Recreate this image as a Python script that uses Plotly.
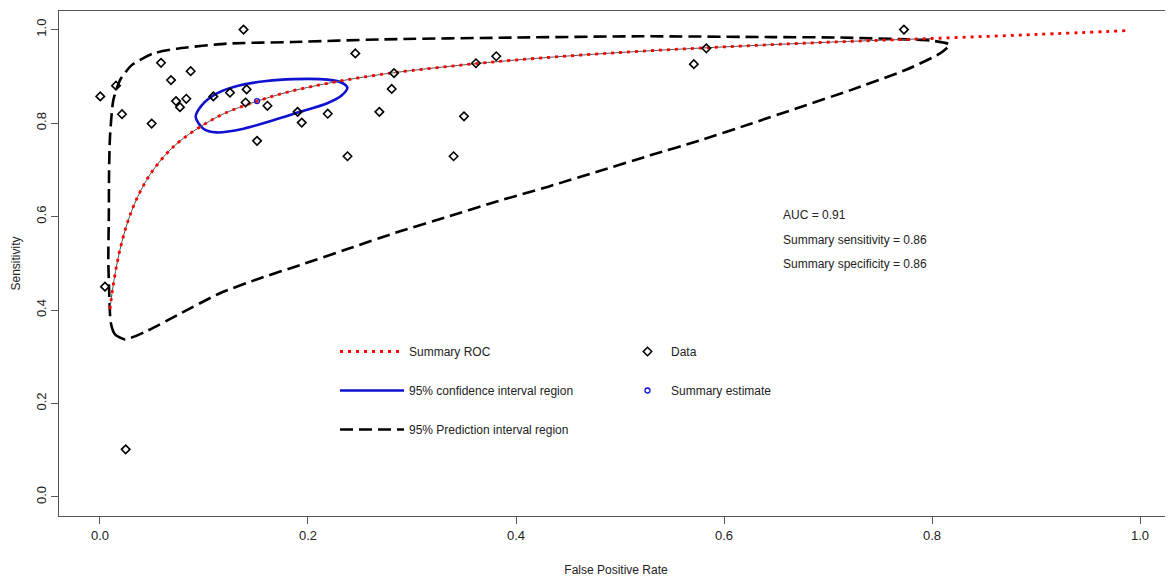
import plotly.graph_objects as go

# ---- data ----
data_fpr = [0.138, 0.0587, 0.0872, 0.0683, 0.0154, 0.0003, 0.0212, 0.0497, 0.0731, 0.0769,
            0.083, 0.109, 0.125, 0.141, 0.140, 0.161, 0.151, 0.190, 0.194, 0.219,
            0.2455, 0.238, 0.2686, 0.2805, 0.350, 0.340, 0.2827, 0.3615, 0.381, 0.571,
            0.583, 0.773, 0.0048, 0.0247]
data_sens = [1.000, 0.929, 0.911, 0.892, 0.880, 0.857, 0.819, 0.799, 0.847, 0.834,
             0.852, 0.857, 0.865, 0.872, 0.844, 0.837, 0.762, 0.824, 0.801, 0.820,
             0.949, 0.729, 0.824, 0.873, 0.8145, 0.729, 0.907, 0.928, 0.943, 0.926,
             0.960, 1.000, 0.450, 0.102]

summary_fpr = [0.151]
summary_sens = [0.847]

sroc_fpr = [0.0096, 0.012, 0.015, 0.019, 0.025, 0.032, 0.04, 0.05, 0.065, 0.08, 0.10, 0.12,
            0.15, 0.18, 0.22, 0.27, 0.33, 0.40, 0.50, 0.60, 0.70, 0.80, 0.90, 0.99]
sroc_sens = [0.402, 0.442, 0.483, 0.527, 0.577, 0.621, 0.659, 0.696, 0.737, 0.767, 0.797, 0.821,
             0.846, 0.866, 0.8855, 0.904, 0.920, 0.935, 0.951, 0.963, 0.973, 0.981, 0.9896, 0.998]
n_sroc_observed = 22  # gray underline covers the observed range (up to fpr 0.80)

ci_fpr = [0.092, 0.0994, 0.112, 0.138, 0.1667, 0.1923, 0.218, 0.2323, 0.2378, 0.2308,
          0.2115, 0.186, 0.160, 0.1346, 0.112, 0.0978, 0.092]
ci_sens = [0.813, 0.788, 0.780, 0.788, 0.806, 0.824, 0.842, 0.859, 0.876, 0.888,
           0.894, 0.894, 0.890, 0.881, 0.863, 0.838, 0.813]

pi_fpr = [0.024, 0.0144, 0.0103, 0.009, 0.008, 0.0085, 0.0087, 0.0096, 0.0128, 0.0192,
          0.0305, 0.0513, 0.0737, 0.122, 0.186, 0.269, 0.40, 0.519, 0.647, 0.7115,
          0.7756, 0.801, 0.817, 0.8077, 0.7756, 0.7212, 0.673, 0.625, 0.577, 0.529,
          0.481, 0.431, 0.372, 0.3365, 0.2885, 0.240, 0.192, 0.154, 0.1154, 0.0769,
          0.0449, 0.024]
pi_sens = [0.337, 0.348, 0.374, 0.43, 0.506, 0.60, 0.692, 0.770, 0.849, 0.8915,
           0.924, 0.949, 0.959, 0.970, 0.9735, 0.979, 0.983, 0.9857, 0.984, 0.983,
           0.979, 0.976, 0.968, 0.949, 0.9145, 0.870, 0.834, 0.798, 0.763, 0.731,
           0.698, 0.664, 0.626, 0.601, 0.5685, 0.532, 0.496, 0.468, 0.436, 0.392,
           0.355, 0.337]

stats_text = ["AUC = 0.91", "Summary sensitivity = 0.86", "Summary specificity = 0.86"]
stats_y = [0.603, 0.549, 0.498]
stats_x = 0.655

tick_vals = [0.0, 0.2, 0.4, 0.6, 0.8, 1.0]
tick_text = ["0.0", "0.2", "0.4", "0.6", "0.8", "1.0"]

FONT = "Liberation Sans, Arial, sans-serif"
AXCOL = "#555555"
TXT = "#222222"

# page body adds an 8px offset; figure is sized/margined to compensate
W, H = 1165, 569
ML, MT, MB = 51, 3, 61
PW = W - ML
PH = H - MT - MB

fig = go.Figure()

fig.add_trace(go.Scatter(
    x=pi_fpr, y=pi_sens, mode="lines", name="95% Prediction interval region",
    line=dict(color="black", width=2.6, dash="13px,6px", shape="spline", smoothing=0.6),
    legend="legend", legendgroup="c", legendrank=3))

fig.add_trace(go.Scatter(
    x=ci_fpr, y=ci_sens, mode="lines", name="95% confidence interval region",
    line=dict(color="#1010d0", width=2.6, shape="spline", smoothing=0.8),
    legend="legend", legendgroup="b", legendrank=2))

fig.add_trace(go.Scatter(
    x=sroc_fpr[:n_sroc_observed], y=sroc_sens[:n_sroc_observed], mode="lines",
    line=dict(color="#555555", width=1, shape="spline"), showlegend=False, hoverinfo="skip"))

fig.add_trace(go.Scatter(
    x=sroc_fpr, y=sroc_sens, mode="lines", name="Summary ROC",
    line=dict(color="#ff0000", width=2.8, dash="3px,5px", shape="spline"),
    legend="legend", legendgroup="a", legendrank=1))

fig.add_trace(go.Scatter(
    x=data_fpr, y=data_sens, mode="markers", name="Data",
    marker=dict(symbol="diamond-open", size=6.5, color="black", line=dict(width=1.6, color="black")),
    legend="legend2", legendgroup="d", legendrank=1))

fig.add_trace(go.Scatter(
    x=summary_fpr, y=summary_sens, mode="markers", name="Summary estimate",
    marker=dict(symbol="circle-open", size=5, color="#1010d0", line=dict(width=1.3, color="#1010d0")),
    legend="legend2", legendgroup="e", legendrank=2))

for t, yy in zip(stats_text, stats_y):
    fig.add_annotation(x=stats_x, y=yy, xref="x", yref="y", text=t, showarrow=False,
                       xanchor="left", yanchor="middle",
                       font=dict(family=FONT, size=12, color=TXT))

leg_top = (H - MB - 329) / PH  # legend block top, in paper units

fig.update_layout(
    width=W, height=H,
    margin=dict(l=ML, r=0, t=MT, b=MB, autoexpand=False),
    paper_bgcolor="white", plot_bgcolor="white",
    font=dict(family=FONT, size=12, color=TXT),
    legend=dict(x=(327 - ML) / PW, y=leg_top, xanchor="left", yanchor="top",
                bgcolor="rgba(0,0,0,0)", borderwidth=0, itemwidth=64, tracegroupgap=20,
                traceorder="grouped", font=dict(family=FONT, size=12, color=TXT)),
    legend2=dict(x=(616 - ML) / PW, y=leg_top, xanchor="left", yanchor="top",
                 bgcolor="rgba(0,0,0,0)", borderwidth=0, itemwidth=37, tracegroupgap=20,
                 traceorder="grouped", font=dict(family=FONT, size=12, color=TXT)),
    xaxis=dict(range=[-0.0394, 1.0317], showgrid=False, zeroline=False, automargin=False,
               showline=True, linecolor=AXCOL, linewidth=1.2, mirror=True,
               ticks="outside", ticklen=7, tickcolor=AXCOL, tickwidth=1,
               tickvals=tick_vals, ticktext=tick_text,
               tickfont=dict(family=FONT, size=13, color=TXT),
               title=dict(text="False Positive Rate", standoff=24,
                          font=dict(family=FONT, size=12, color=TXT))),
    yaxis=dict(range=[-0.0407, 1.0398], showgrid=False, zeroline=False, automargin=False,
               showline=True, linecolor=AXCOL, linewidth=1.2, mirror=False,
               ticks="outside", ticklen=7, tickcolor=AXCOL, tickwidth=1,
               tickvals=tick_vals, ticktext=tick_text, tickangle=-90,
               tickfont=dict(family=FONT, size=13, color=TXT),
               title=dict(text="Sensitivity", standoff=10,
                          font=dict(family=FONT, size=12, color=TXT))),
    showlegend=True,
)

fig.write_html("out.html")
